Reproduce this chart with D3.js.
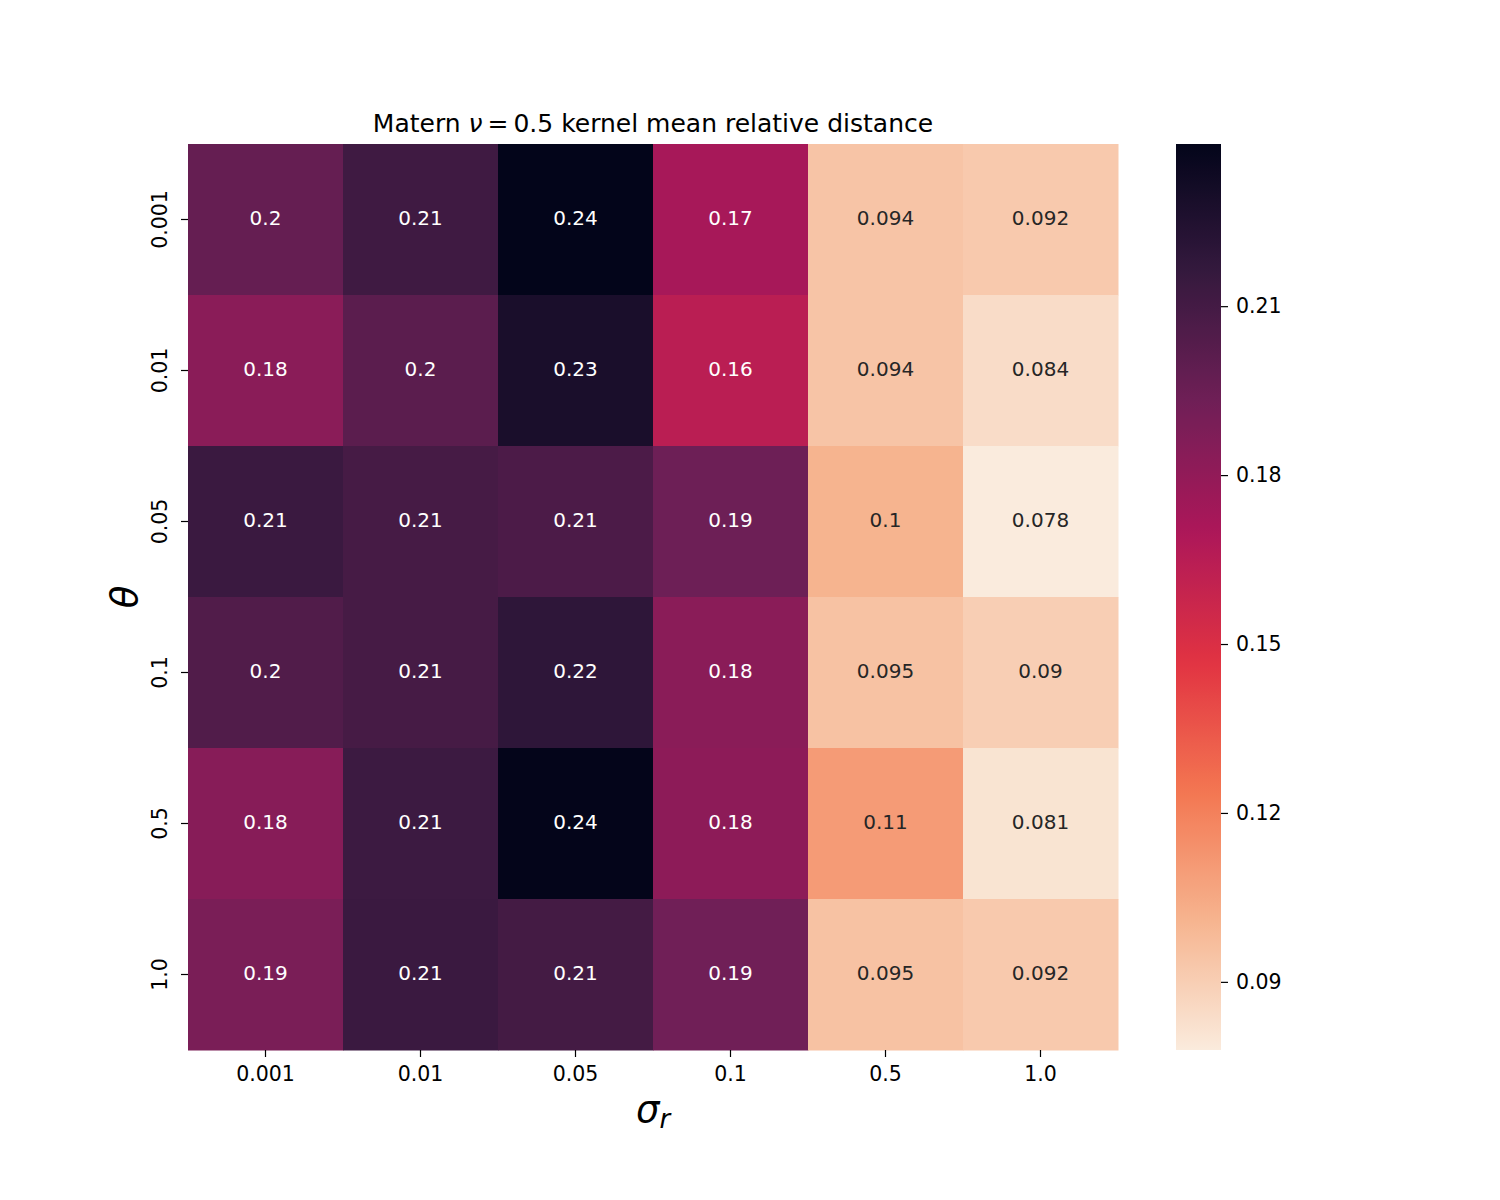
<!DOCTYPE html>
<html>
<head>
<meta charset="utf-8">
<script src="https://cdn.jsdelivr.net/npm/d3@7"></script>
<style>
  body { margin: 0; background: #fff; }
  text { font-family: "DejaVu Sans", sans-serif; }
</style>
</head>
<body>
<div id="chart"></div>
<script>
// sigma_r along x, theta along y
const sigmaLabels = ["0.001", "0.01", "0.05", "0.1", "0.5", "1.0"];
const thetaLabels = ["0.001", "0.01", "0.05", "0.1", "0.5", "1.0"];

// one array per theta row
const row0001 = [0.197, 0.212, 0.2388, 0.172, 0.094, 0.092];
const row001 = [0.183, 0.201, 0.228, 0.164, 0.094, 0.084];
const row005 = [0.214, 0.209, 0.207, 0.194, 0.101, 0.0779];
const row01 = [0.205, 0.209, 0.219, 0.183, 0.095, 0.090];
const row05 = [0.184, 0.213, 0.2385, 0.182, 0.110, 0.081];
const row10 = [0.189, 0.214, 0.210, 0.193, 0.095, 0.092];
const rows = [row0001, row001, row005, row01, row05, row10];

const cbarTicks = [0.09, 0.12, 0.15, 0.18, 0.21];

// seaborn "rocket" stops (reversed below)
const rocketStops = ["#03051a", "#35193e", "#701f57", "#ad1759", "#e13342", "#f37651", "#f6b48f", "#faebdd"];

const W = 1500, H = 1200;
const mLeft = 188, mRight = 1118, mTop = 144, mBottom = 1050;
const cbL = 1176, cbR = 1221;

const allVals = rows.flat();
const vmin = d3.min(allVals), vmax = d3.max(allVals);

const rocket = d3.scaleLinear()
  .domain(d3.range(rocketStops.length).map(i => i / (rocketStops.length - 1)))
  .range(rocketStops)
  .interpolate(d3.interpolateRgb);
const color = v => rocket(1 - (v - vmin) / (vmax - vmin));

const svg = d3.select("#chart").append("svg")
  .attr("width", W).attr("height", H);

const x = d3.scaleBand().domain(sigmaLabels).range([mLeft, mRight]);
const y = d3.scaleBand().domain(thetaLabels).range([mTop, mBottom]);

const cells = [];
rows.forEach((r, i) => r.forEach((v, j) => cells.push({ th: thetaLabels[i], sg: sigmaLabels[j], v })));

svg.append("g").selectAll("rect")
  .data(cells).enter().append("rect")
  .attr("x", d => x(d.sg))
  .attr("y", d => y(d.th))
  .attr("width", x.bandwidth() + 0.5)
  .attr("height", y.bandwidth() + 0.5)
  .attr("fill", d => color(d.v));

function lum(c) {
  const rgb = d3.rgb(c);
  const f = u => { u /= 255; return u <= 0.03928 ? u / 12.92 : Math.pow((u + 0.055) / 1.055, 2.4); };
  return 0.2126 * f(rgb.r) + 0.7152 * f(rgb.g) + 0.0722 * f(rgb.b);
}
const fmt = d3.format(".2~g");

svg.append("g").selectAll("text")
  .data(cells).enter().append("text")
  .attr("x", d => x(d.sg) + x.bandwidth() / 2)
  .attr("y", d => y(d.th) + y.bandwidth() / 2)
  .attr("dy", "0.28em")
  .attr("text-anchor", "middle")
  .attr("font-size", 20)
  .attr("fill", d => lum(color(d.v)) > 0.408 ? "#262626" : "#fff")
  .text(d => fmt(d.v));

// x axis
const xAxis = svg.append("g")
  .attr("transform", `translate(0,${mBottom})`)
  .call(d3.axisBottom(x).tickSize(7).tickPadding(9));
xAxis.select(".domain").remove();
xAxis.selectAll("text").attr("font-size", 20.5).attr("fill", "#000")
  .attr("font-family", "DejaVu Sans");
xAxis.selectAll("line").attr("stroke", "#000").attr("stroke-width", 1.2);

// y axis with vertical labels
const yAxis = svg.append("g")
  .attr("transform", `translate(${mLeft},0)`)
  .call(d3.axisLeft(y).tickSize(7).tickPadding(7));
yAxis.select(".domain").remove();
yAxis.selectAll("line").attr("stroke", "#000").attr("stroke-width", 1.2);
yAxis.selectAll("text")
  .attr("font-size", 20.5).attr("fill", "#000").attr("font-family", "DejaVu Sans")
  .attr("x", null).attr("dy", null)
  .attr("text-anchor", "middle")
  .attr("transform", "translate(-21,0) rotate(-90)");

// colorbar
const cy = d3.scaleLinear().domain([vmin, vmax]).range([mBottom, mTop]);
const grad = svg.append("defs").append("linearGradient")
  .attr("id", "cbar").attr("x1", 0).attr("y1", 1).attr("x2", 0).attr("y2", 0);
grad.selectAll("stop")
  .data(d3.range(0, 1.0001, 1 / 64)).enter().append("stop")
  .attr("offset", t => t)
  .attr("stop-color", t => color(vmin + t * (vmax - vmin)));
svg.append("rect")
  .attr("x", cbL).attr("y", mTop)
  .attr("width", cbR - cbL).attr("height", mBottom - mTop)
  .attr("fill", "url(#cbar)");

const cAxis = svg.append("g")
  .attr("transform", `translate(${cbR},0)`)
  .call(d3.axisRight(cy).tickValues(cbarTicks).tickFormat(d3.format(".2f")).tickSize(7).tickPadding(8));
cAxis.select(".domain").remove();
cAxis.selectAll("line").attr("stroke", "#000").attr("stroke-width", 1.2);
cAxis.selectAll("text").attr("font-size", 20.5).attr("fill", "#000").attr("font-family", "DejaVu Sans");

// title
const title = svg.append("text")
  .attr("x", (mLeft + mRight) / 2).attr("y", 132)
  .attr("text-anchor", "middle")
  .attr("font-size", 25).attr("fill", "#000");
title.append("tspan").text("Matern ");
title.append("tspan").attr("font-style", "italic").text("ν");
title.append("tspan").text("\u2009=\u20090.5 kernel mean relative distance");

// axis labels
const xl = svg.append("text")
  .attr("x", (mLeft + mRight) / 2).attr("y", 1122)
  .attr("text-anchor", "middle")
  .attr("font-size", 37).attr("fill", "#000");
xl.append("tspan").attr("font-style", "italic").text("σ");
xl.append("tspan").attr("font-style", "italic").attr("font-size", 26).attr("dy", 6).text("r");

svg.append("text")
  .attr("transform", `translate(137,${(mTop + mBottom) / 2}) rotate(-90)`)
  .attr("text-anchor", "middle")
  .attr("font-size", 37).attr("font-style", "italic").attr("fill", "#000")
  .text("θ");
</script>
</body>
</html>
